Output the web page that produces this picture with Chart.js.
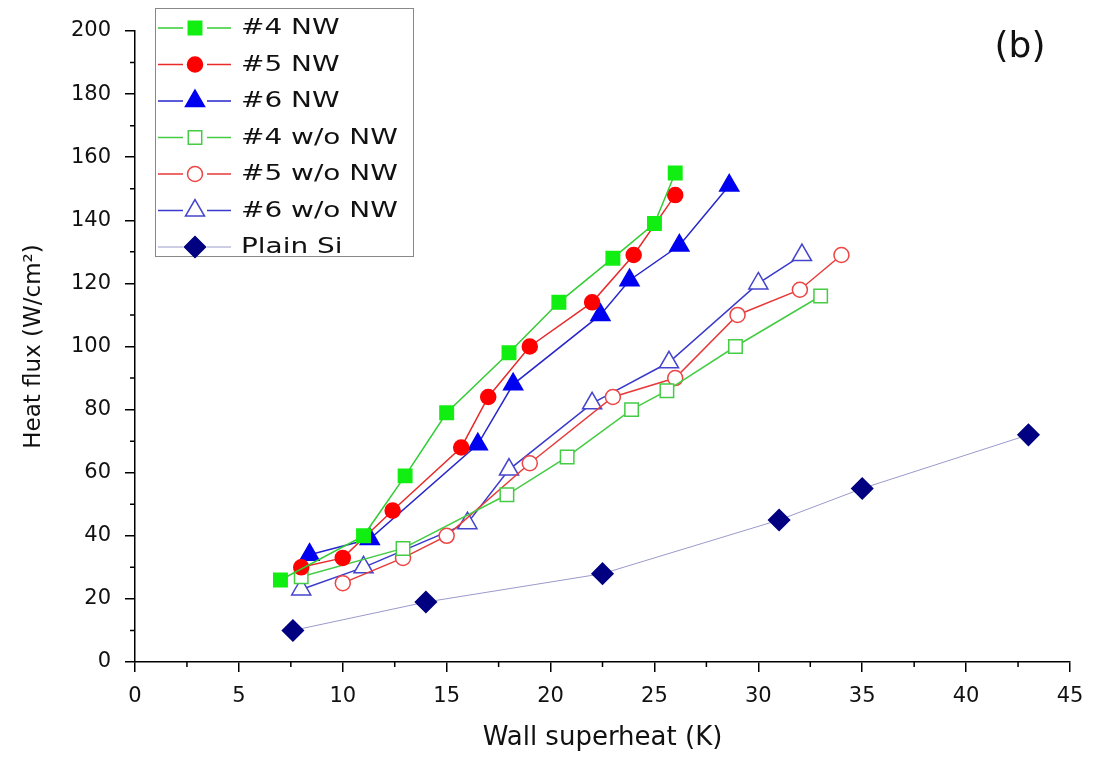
<!DOCTYPE html>
<html>
<head>
<meta charset="utf-8">
<script src="https://cdn.jsdelivr.net/npm/chart.js@4.4.0/dist/chart.umd.min.js"></script>
<style>
  html, body { margin: 0; padding: 0; background: #fff; }
</style>
</head>
<body>
<canvas id="fluxChart" width="1099" height="759"></canvas>
<script>
// wall superheat (K) / heat flux (W/cm2)
const x4NW = [7, 11, 13, 15, 18, 20.4, 23, 25, 26];
const y4NW = [26, 40, 59, 79, 98, 114, 128, 139, 155];
const x5NW = [8, 10, 12.4, 15.7, 17, 19, 22, 24, 26];
const y5NW = [30, 33, 48, 68, 84, 100, 114, 129, 148];
const x6NW = [8.4, 11.3, 16.5, 18.2, 22.4, 23.8, 26.2, 28.6];
const y6NW = [34, 39, 69, 88, 110, 121, 132, 151];
const x4wo = [8, 12.9, 17.9, 20.8, 23.9, 25.6, 28.9, 33];
const y4wo = [27, 36, 53, 65, 80, 86, 100, 116];
const x5wo = [10, 12.9, 15, 19, 23, 26, 29, 32, 34];
const y5wo = [25, 33, 40, 63, 84, 90, 110, 118, 129];
const x6wo = [8, 11, 16, 18, 22, 25.7, 30, 32.1];
const y6wo = [23, 30, 44, 61, 82, 95, 120, 129];
const xPlain = [7.6, 14, 22.5, 31, 35, 43];
const yPlain = [10, 19, 28, 45, 55, 72];

const xTicks = [0, 5, 10, 15, 20, 25, 30, 35, 40, 45];
const yTicks = [0, 20, 40, 60, 80, 100, 120, 140, 160, 180, 200];

const FONT = '"DejaVu Sans", "Liberation Sans", Arial, sans-serif';

const pts = (xs, ys) => xs.map((x, i) => ({ x: x, y: ys[i] }));

function series(label, xs, ys, line, marker, fill, style, r, lw) {
    return {
        label: label,
        data: pts(xs, ys),
        showLine: true,
        borderColor: line,
        borderWidth: lw,
        pointStyle: style,
        pointRadius: r,
        pointHoverRadius: r,
        pointBackgroundColor: fill,
        pointBorderColor: marker,
        pointBorderWidth: 1.5
    };
}

const datasets = [
    series('#4 NW', x4NW, y4NW, '#33cc33', '#11ee11', '#11ee11', 'rect', 9.5, 1.5),
    series('#5 NW', x5NW, y5NW, '#e82a2a', '#ff0000', '#ff0000', 'circle', 7.5, 1.5),
    series('#6 NW', x6NW, y6NW, '#2626cc', '#0000f0', '#0000f0', 'triangle', 11, 1.5),
    series('#4 w/o NW', x4wo, y4wo, '#44cc44', '#44cc44', '#ffffff', 'rect', 9.5, 1.5),
    series('#5 w/o NW', x5wo, y5wo, '#e83a3a', '#ee4444', '#ffffff', 'circle', 7.5, 1.5),
    series('#6 w/o NW', x6wo, y6wo, '#3a3acc', '#4444cc', '#ffffff', 'triangle', 11, 1.5),
    series('Plain Si', xPlain, yPlain, '#9a9acc', '#000080', '#000080', 'rectRot', 10.5, 1)
];

// minor ticks between the labelled ones, plus the "(b)" tag
const minorTicks = {
    id: 'minorTicks',
    afterDraw(chart) {
        const { ctx, chartArea, scales: { x, y } } = chart;
        ctx.save();
        ctx.strokeStyle = '#000';
        ctx.lineWidth = 1.5;
        ctx.beginPath();
        for (let i = 0; i < yTicks.length - 1; i++) {
            const py = y.getPixelForValue((yTicks[i] + yTicks[i + 1]) / 2);
            ctx.moveTo(chartArea.left - 5, py);
            ctx.lineTo(chartArea.left, py);
        }
        for (let i = 0; i < xTicks.length - 1; i++) {
            const px = x.getPixelForValue((xTicks[i] + xTicks[i + 1]) / 2);
            ctx.moveTo(px, chartArea.bottom);
            ctx.lineTo(px, chartArea.bottom + 5);
        }
        ctx.stroke();

        ctx.fillStyle = '#111';
        ctx.font = '36px ' + FONT;
        ctx.textAlign = 'center';
        ctx.textBaseline = 'middle';
        ctx.fillText('(b)', chartArea.right - 50, 48);
        ctx.restore();
    }
};

// Origin-style legend: line - marker - line, then the label (text is wide in the original)
const boxLegend = {
    id: 'boxLegend',
    afterDraw(chart) {
        const ctx = chart.ctx;
        const left = 155, top = 8, w = 258, h = 248, rowH = 36.5;
        ctx.save();
        ctx.fillStyle = '#fff';
        ctx.fillRect(left, top, w, h);
        ctx.strokeStyle = '#888';
        ctx.lineWidth = 1;
        ctx.strokeRect(left + 0.5, top + 0.5, w, h);
        ctx.textBaseline = 'middle';
        chart.data.datasets.forEach((ds, i) => {
            const cy = top + 20 + i * rowH;
            ctx.strokeStyle = ds.borderColor;
            ctx.lineWidth = ds.borderWidth;
            ctx.beginPath();
            ctx.moveTo(left + 3, cy);
            ctx.lineTo(left + 28, cy);
            ctx.moveTo(left + 52, cy);
            ctx.lineTo(left + 76, cy);
            ctx.stroke();
            ctx.fillStyle = ds.pointBackgroundColor;
            ctx.strokeStyle = ds.pointBorderColor;
            ctx.lineWidth = ds.pointBorderWidth;
            Chart.helpers.drawPoint(ctx, { pointStyle: ds.pointStyle, radius: ds.pointRadius, rotation: 0, borderWidth: ds.pointBorderWidth }, left + 40, cy);
            ctx.save();
            ctx.translate(left + 86, cy + 1);
            ctx.scale(1.33, 1);
            ctx.font = '21px ' + FONT;
            ctx.fillStyle = '#111';
            ctx.fillText(ds.label, 0, 0);
            ctx.restore();
        });
        ctx.restore();
    }
};

const ctxFlux = document.getElementById('fluxChart').getContext('2d');
new Chart(ctxFlux, {
    type: 'scatter',
    data: { datasets: datasets },
    plugins: [minorTicks, boxLegend],
    options: {
        responsive: false,
        animation: false,
        layout: { padding: { left: 0, right: 29, top: 31, bottom: 0 } },
        plugins: {
            legend: { display: false },
            tooltip: { enabled: false }
        },
        scales: {
            x: {
                type: 'linear',
                min: 0,
                max: 45,
                afterFit: s => { s.height = 97; },
                afterBuildTicks: s => { s.ticks = xTicks.map(v => ({ value: v })); },
                border: { color: '#000', width: 1.5 },
                grid: { drawOnChartArea: false, drawTicks: true, tickLength: 10, color: '#000', lineWidth: 1.5 },
                ticks: { color: '#111', padding: 12, font: { family: FONT, size: 21 } },
                title: {
                    display: true,
                    text: 'Wall superheat (K)',
                    color: '#111',
                    font: { family: FONT, size: 26 },
                    padding: { top: 0, bottom: 5 }
                }
            },
            y: {
                type: 'linear',
                min: 0,
                max: 200,
                afterFit: s => { s.width = 135; },
                afterBuildTicks: s => { s.ticks = yTicks.map(v => ({ value: v })); },
                border: { color: '#000', width: 1.5 },
                grid: { drawOnChartArea: false, drawTicks: true, tickLength: 10, color: '#000', lineWidth: 1.5 },
                ticks: { color: '#111', padding: 14, font: { family: FONT, size: 21 } },
                title: {
                    display: true,
                    text: 'Heat flux (W/cm\u00b2)',
                    color: '#111',
                    font: { family: FONT, size: 23 },
                    padding: { top: 20, bottom: 0 }
                }
            }
        }
    }
});
</script>
</body>
</html>
